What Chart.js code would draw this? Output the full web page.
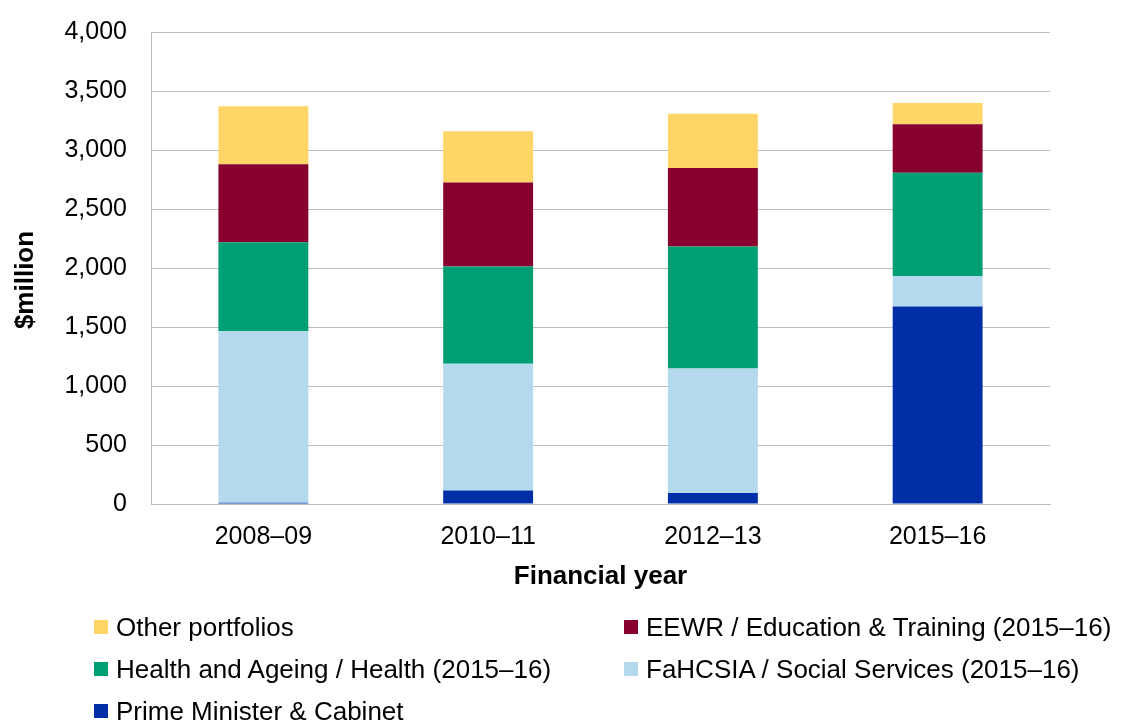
<!DOCTYPE html>
<html>
<head>
<meta charset="utf-8">
<script src="https://cdn.jsdelivr.net/npm/chart.js@4/dist/chart.umd.min.js"></script>
<style>
    body { margin: 0; background: #fff; }
    #wrap { position: relative; width: 1127px; height: 720px; }
    #leyenda { position: absolute; left: 0; top: 0; font-family: "Liberation Sans", Arial, sans-serif; font-size: 26px; color: #000; }
    .item { position: absolute; white-space: nowrap; line-height: 30px; height: 30px; }
    .item span.caja { position: absolute; left: 0; top: 8px; width: 14px; height: 14px; }
    .item span.txt { position: absolute; left: 22px; top: 0; }
</style>
</head>
<body>
<div id="wrap">
    <canvas id="myChart" width="1127" height="720"></canvas>
    <div id="leyenda"></div>
</div>
<script>
// Datos ($million)
const years = ['2008–09', '2010–11', '2012–13', '2015–16'];
const pmc = [10, 115, 93, 1673];
const fahcsia = [1455, 1073, 1055, 260];
const health = [754, 824, 1034, 875];
const eewr = [660, 712, 666, 410];
const other = [492, 435, 460, 181];
const yTicks = [0, 500, 1000, 1500, 2000, 2500, 3000, 3500, 4000];

const fuente = '"Liberation Sans", Arial, sans-serif';

const series = [
    { label: 'Prime Minister & Cabinet', data: pmc, color: '#002EA6' },
    { label: 'FaHCSIA / Social Services (2015–16)', data: fahcsia, color: '#B5D9EC' },
    { label: 'Health and Ageing / Health (2015–16)', data: health, color: '#009F73' },
    { label: 'EEWR / Education & Training (2015–16)', data: eewr, color: '#87002F' },
    { label: 'Other portfolios', data: other, color: '#FFD567' }
];

// Título del eje Y dibujado a mano (un poco más abajo que el centro, como en el original)
const tituloY = {
    id: 'tituloY',
    afterDraw: (chart) => {
        const c = chart.ctx;
        c.save();
        c.translate(26, 280);
        c.rotate(-Math.PI / 2);
        c.font = 'bold 26px ' + fuente;
        c.fillStyle = '#000';
        c.textAlign = 'center';
        c.textBaseline = 'middle';
        c.fillText('$million', 0, 0);
        c.restore();
    }
};

const ctx = document.getElementById('myChart').getContext('2d');

const myChart = new Chart(ctx, {
    type: 'bar',
    data: {
        labels: years,
        datasets: series.map(s => ({
            label: s.label,
            data: s.data,
            backgroundColor: s.color,
            borderWidth: 0,
            barPercentage: 0.4,
            categoryPercentage: 1
        }))
    },
    options: {
        responsive: false,
        animation: false,
        layout: { padding: { left: 0, right: 77, top: 32, bottom: 124 } },
        plugins: {
            legend: { display: false },
            tooltip: { enabled: false }
        },
        scales: {
            x: {
                stacked: true,
                grid: { display: false, drawTicks: false },
                border: { color: '#bdbdbd', width: 1 },
                ticks: { color: '#000', padding: 18, font: { family: fuente, size: 25 } },
                title: { display: true, text: 'Financial year', color: '#000', font: { family: fuente, size: 26, weight: 'bold' } },
                afterFit: (scale) => { scale.height = 92; }
            },
            y: {
                stacked: true,
                min: 0,
                max: 4000,
                grid: { color: '#bdbdbd', lineWidth: 1, drawTicks: false },
                border: { color: '#bdbdbd', width: 1 },
                afterBuildTicks: (scale) => { scale.ticks = yTicks.map(v => ({ value: v })); },
                ticks: {
                    color: '#000',
                    padding: 24,
                    font: { family: fuente, size: 25 },
                    callback: (v) => v.toLocaleString('en-US')
                },
                afterFit: (scale) => {
                    scale.width = 151;
                    scale.paddingTop = 0;    // que no empuje el área del gráfico hacia abajo
                    scale.paddingBottom = 0;
                }
            }
        }
    },
    plugins: [tituloY]
});

// Leyenda en dos columnas, como en el original
const orden = [4, 3, 2, 1, 0];
const posiciones = [[94, 612], [624, 612], [94, 654], [624, 654], [94, 696]];
const leyenda = document.getElementById('leyenda');
orden.forEach((idx, i) => {
    const s = series[idx];
    leyenda.innerHTML += `
        <div class="item" style="left:${posiciones[i][0]}px; top:${posiciones[i][1]}px;">
            <span class="caja" style="background:${s.color}"></span>
            <span class="txt">${s.label}</span>
        </div>
    `;
});
</script>
</body>
</html>
